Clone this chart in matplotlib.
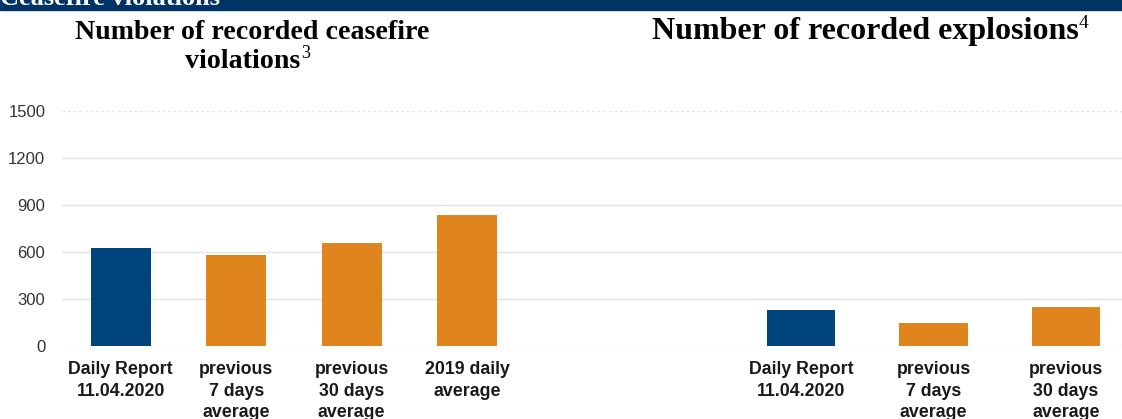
import matplotlib
matplotlib.use('Agg')
import matplotlib.pyplot as plt
from matplotlib.patches import Rectangle

# ---- data ----
cf_categories = ["Daily Report\n11.04.2020", "previous\n7 days\naverage",
                 "previous\n30 days\naverage", "2019 daily\naverage"]
cf_values = [623, 579, 655, 836]
ex_categories = ["Daily Report\n11.04.2020", "previous\n7 days\naverage",
                 "previous\n30 days\naverage"]
ex_values = [228, 149, 249]
yticks = [0, 300, 600, 900, 1200, 1500]
banner_text = "Ceasefire violations"
title_left_1 = "Number of recorded ceasefire"
title_left_2 = "violations"
title_left_sup = "3"
title_right = "Number of recorded explosions"
title_right_sup = "4"

BLUE = '#00457C'
ORANGE = '#E0841E'
BANNER = '#003366'
GRID = '#e4e4e4'

W, H = 1122, 419
fig = plt.figure(figsize=(W / 100, H / 100), dpi=100)

y0 = (H - 346) / H
hh = 235 / H
axL = fig.add_axes([62 / W, y0, (525 - 62) / W, hh])
axR = fig.add_axes([525 / W, y0, (W - 525) / W, hh])

def style(ax, cats, vals, xlim, show_y):
    for t in yticks:
        ls = (0, (2, 2)) if t in (yticks[0], yticks[-1]) else '-'
        ax.axhline(t, color=GRID, lw=1, ls=ls, zorder=0)
    colors = [BLUE] + [ORANGE] * (len(vals) - 1)
    ax.bar(range(len(vals)), vals, width=0.52, color=colors, zorder=2)
    ax.set_xlim(*xlim)
    ax.set_ylim(0, yticks[-1])
    ax.set_xticks(range(len(cats)))
    ax.set_xticklabels(cats, fontfamily='Liberation Sans', fontweight='bold',
                       fontsize=12.8, color='#1a1a1a', linespacing=1.33)
    ax.set_yticks(yticks)
    if show_y:
        ax.set_yticklabels([str(t) for t in yticks], fontfamily='Liberation Sans',
                           fontsize=12, color='#333333')
    else:
        ax.set_yticklabels([])
    ax.tick_params(axis='both', length=0)
    ax.tick_params(axis='x', pad=11)
    ax.tick_params(axis='y', pad=12)
    for s in ax.spines.values():
        s.set_visible(False)
    ax.patch.set_alpha(0)

style(axL, cf_categories, cf_values, (-0.508, 3.5), True)
style(axR, ex_categories, ex_values, (-2.083, 2.423), False)

# banner
fig.patches.append(Rectangle((0, 1 - 10 / H), 1, 10 / H, transform=fig.transFigure,
                             color=BANNER, zorder=0))
fig.text(0, 1 - 5 / H, banner_text, color='white', fontfamily='Liberation Serif',
         fontweight='bold', fontsize=19, va='baseline', ha='left')

tkw = dict(fontfamily='Liberation Serif', fontweight='bold',
           va='baseline', ha='center', color='black')
fig.text(252 / W, 1 - 39 / H, title_left_1, fontsize=20.2, **tkw)
t2 = fig.text(243 / W, 1 - 68 / H, title_left_2, fontsize=20.2, **tkw)
t3 = fig.text(865 / W, 1 - 39 / H, title_right, fontsize=23, **tkw)
for art, sup, fs in ((t2, title_left_sup, 13), (t3, title_right_sup, 14)):
    fig.add_artist(matplotlib.text.Annotation(
        sup, xy=(1, 0.5), xycoords=art, xytext=(0, 0), textcoords='offset points',
        fontfamily='Liberation Serif', fontsize=fs, va='bottom', ha='left'))

fig.savefig('out.png', dpi=100)
